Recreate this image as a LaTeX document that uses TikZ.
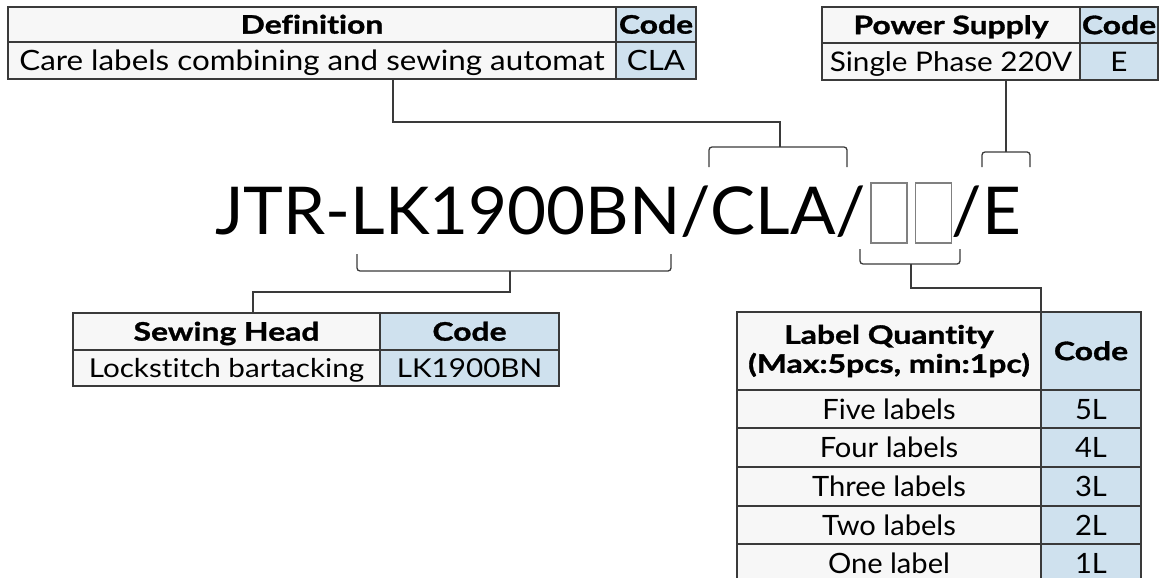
\documentclass[tikz,border=0pt]{standalone}
\usepackage{fontspec}
\setmainfont{Lato}[Ligatures=NoCommon]
\newfontfamily\hdfont{Lato}[FakeStretch=1.25, Ligatures=NoCommon, BoldFeatures={FakeBold=1.2}]
\newfontfamily\bodyA{Lato}[FakeStretch=1.12, Ligatures=NoCommon]
\newfontfamily\bodyB{Lato}[FakeStretch=1.10, Ligatures=NoCommon]
\newfontfamily\bodyC{Lato}[FakeStretch=1.14, Ligatures=NoCommon]
\newfontfamily\bodyD{Lato}[FakeStretch=1.04, Ligatures=NoCommon]
\newfontfamily\pnfamily{Lato}[FakeStretch=1.02, Ligatures=NoCommon]
\definecolor{cellgray}{HTML}{F7F7F7}
\definecolor{codeblue}{HTML}{CFE1EE}
\definecolor{linec}{HTML}{3A3A3A}
\definecolor{slotc}{HTML}{808080}
\begin{document}
\begin{tikzpicture}[x=1pt,y=-1pt,
  cell/.style={draw=linec, line width=1.2pt, fill=cellgray, inner sep=0pt, outer sep=0pt, text=black, text depth=0pt},
  codecell/.style={cell, fill=codeblue},
  headcell/.style={cell, font=\hdfont\bfseries\fontsize{25.5}{29}\selectfont, text height=18.3pt},
  headcode/.style={headcell, fill=codeblue},
  fA/.style={font=\bodyA\fontsize{28}{32}\selectfont, text height=20pt},
  fB/.style={font=\bodyB\fontsize{27}{31}\selectfont, text height=19.3pt},
  fC/.style={font=\bodyC\fontsize{26}{30}\selectfont, text height=18.6pt},
  fD/.style={font=\bodyD\fontsize{28}{32}\selectfont, text height=20pt},
  conn/.style={draw=linec, line width=1.3pt},
  brk/.style={conn, rounded corners=3pt},
  slotbox/.style={draw=slotc, line width=1.4pt, inner sep=0pt, outer sep=0pt, minimum width=36pt, minimum height=60pt},
  pn/.style={inner sep=0pt, outer sep=0pt, font=\pnfamily\fontsize{66}{70}\selectfont}]
\useasboundingbox (0,0) rectangle (1165,578);

% ---- Definition table
\node[headcell, minimum width=608pt, minimum height=35pt] (defh) at (312,24.5) {Definition};
\node[headcode, minimum width=80pt, minimum height=35pt] (codeh1) at (656,24.5) {Code};
\node[cell, fA, minimum width=608pt, minimum height=37pt] (defv) at (312,60.5) {Care labels combining and sewing automat};
\node[codecell, fA, minimum width=80pt, minimum height=37pt] (codev1) at (656,60.5) {CLA};

% ---- Power supply table
\node[headcell, minimum width=258pt, minimum height=36pt] (psh) at (951,25) {Power Supply};
\node[headcode, minimum width=78pt, minimum height=36pt] (codeh2) at (1119,25) {Code};
\node[cell, fB, minimum width=258pt, minimum height=37pt] (psv) at (951,61.5) {Single Phase 220V};
\node[codecell, fB, minimum width=78pt, minimum height=37pt] (codev2) at (1119,61.5) {E};

% ---- Sewing head table
\node[headcell, minimum width=307pt, minimum height=37pt] (shh) at (226.5,331.5) {Sewing Head};
\node[headcode, minimum width=179pt, minimum height=37pt] (codeh3) at (469.5,331.5) {Code};
\node[cell, fC, minimum width=307pt, minimum height=36pt] (shv) at (226.5,368) {Lockstitch bartacking};
\node[codecell, fC, minimum width=179pt, minimum height=36pt] (codev3) at (469.5,368) {LK1900BN};

% ---- Label quantity table
\node[headcell, minimum width=304pt, minimum height=78pt, align=center, text height=, text depth=] (lqh) at (889,351)
  {Label Quantity\\(Max:5pcs, min:1pc)};
\node[headcode, minimum width=100pt, minimum height=78pt] (codeh4) at (1091,351) {Code};
\node[cell, fD, minimum width=304pt, minimum height=38pt] (r5) at (889,409) {Five labels};
\node[codecell, fD, minimum width=100pt, minimum height=38pt] (c5) at (1091,409) {5L};
\node[cell, fD, minimum width=304pt, minimum height=39pt] (r4) at (889,447.5) {Four labels};
\node[codecell, fD, minimum width=100pt, minimum height=39pt] (c4) at (1091,447.5) {4L};
\node[cell, fD, minimum width=304pt, minimum height=39pt] (r3) at (889,486.5) {Three labels};
\node[codecell, fD, minimum width=100pt, minimum height=39pt] (c3) at (1091,486.5) {3L};
\node[cell, fD, minimum width=304pt, minimum height=38pt] (r2) at (889,525) {Two labels};
\node[codecell, fD, minimum width=100pt, minimum height=38pt] (c2) at (1091,525) {2L};
\node[cell, fD, minimum width=304pt, minimum height=39pt] (r1) at (889,563.5) {One label};
\node[codecell, fD, minimum width=100pt, minimum height=39pt] (c1) at (1091,563.5) {1L};

% ---- Part number
\node[pn, anchor=base west] (pn1) at (215,234) {JTR-LK1900BN/CLA/};
\node[slotbox] (s1) at (889,213) {};
\node[slotbox] (s2) at (933.5,213) {};
\node[pn, anchor=base east] (pn2) at (1021,234) {/E};

% ---- Brackets
\coordinate (b1) at (780,147);
\draw[brk] (709,167) -- (709,147) -- (847,147) -- (847,167);
\coordinate (b2) at (1006,152);
\draw[brk] (982,167) -- (982,152) -- (1030,152) -- (1030,167);
\coordinate (b3) at (510,271);
\draw[brk] (357,254) -- (357,271) -- (671,271) -- (671,254);
\coordinate (b4) at (911,264);
\draw[brk] (860,249) -- (860,264) -- (960,264) -- (960,249);

% ---- Connectors
\coordinate (k1) at (393,122);
\draw[conn] (defv.south -| k1) -- (k1) -| (b1);
\draw[conn] (psv.south -| b2) -- (b2);
\coordinate (k3) at (253,292);
\draw[conn] (b3) |- (k3) -- (shh.north -| k3);
\coordinate (k4) at (1041,288);
\draw[conn] (b4) |- (k4) -- (lqh.north east);
\end{tikzpicture}
\end{document}
